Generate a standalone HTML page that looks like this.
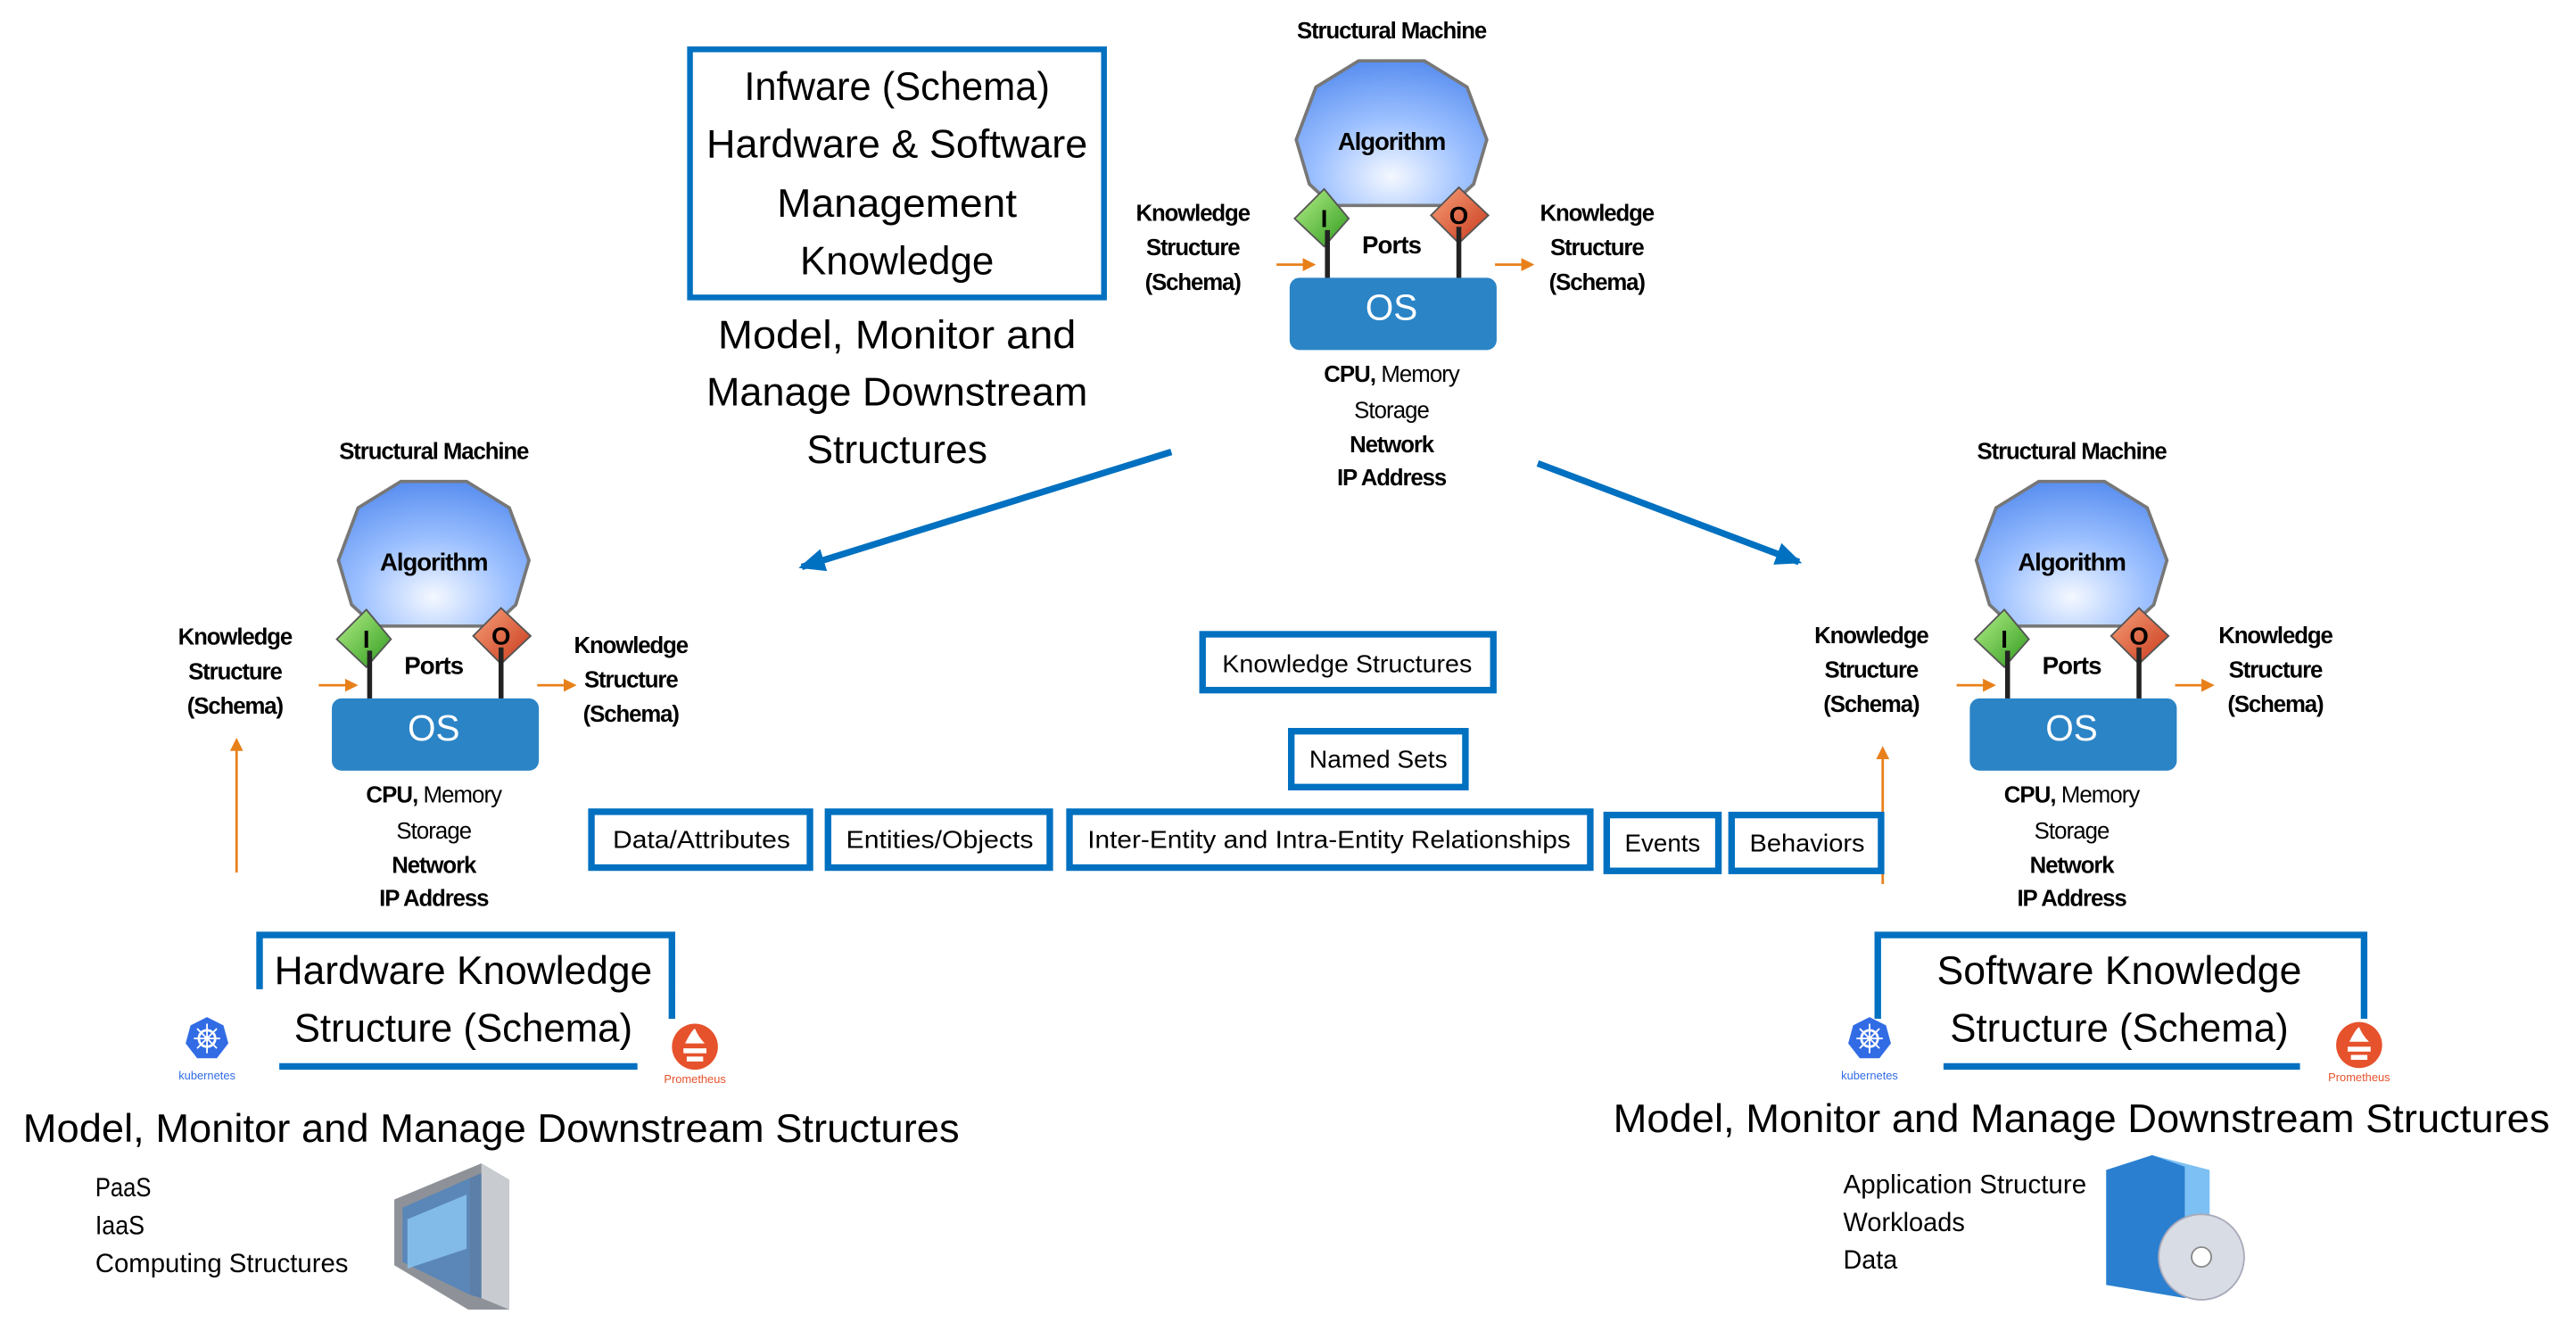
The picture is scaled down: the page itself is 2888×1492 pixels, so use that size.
<!DOCTYPE html>
<html><head><meta charset="utf-8"><style>html,body{margin:0;padding:0;background:#fff}svg{display:block}</style></head>
<body>
<svg width="2888" height="1492" viewBox="0 0 1568 810" xmlns="http://www.w3.org/2000/svg" font-family="Liberation Sans, sans-serif">
<defs>
<radialGradient id="alg" cx="0.5" cy="0.8" r="0.8"><stop offset="0" stop-color="#f4f8ff"/><stop offset="0.5" stop-color="#9cc0ff"/><stop offset="1" stop-color="#5a8ff0"/></radialGradient>
<linearGradient id="gI" x1="0" y1="0" x2="1" y2="1"><stop offset="0" stop-color="#b6f08a"/><stop offset="1" stop-color="#2e9a1c"/></linearGradient>
<linearGradient id="gO" x1="0" y1="0" x2="1" y2="1"><stop offset="0" stop-color="#f7a07a"/><stop offset="1" stop-color="#c8381a"/></linearGradient>
<marker id="ob" markerWidth="8" markerHeight="8" refX="6" refY="4" orient="auto" markerUnits="userSpaceOnUse"><path d="M0,0 L8,4 L0,8 z" fill="#e8801a"/></marker>
<marker id="bb" markerWidth="16" markerHeight="14" refX="14" refY="7" orient="auto" markerUnits="userSpaceOnUse"><path d="M0,0 L16,7 L0,14 z" fill="#0070c0"/></marker>
<g id="sm">
 <text x="0" y="19" text-anchor="middle" dominant-baseline="central" font-size="14" font-weight="bold" letter-spacing="-0.6">Structural Machine</text>
 <polygon points="-20,37 20,37 46,53 58,85 50,112 36,125 -36,125 -50,112 -58,85 -46,53" fill="url(#alg)" stroke="#777" stroke-width="2"/>
 <text x="0" y="86" text-anchor="middle" dominant-baseline="central" font-size="15" font-weight="bold" letter-spacing="-0.6">Algorithm</text>
 <polygon points="-41,115 -26,133 -41,150 -59,133" fill="url(#gI)" stroke="#555" stroke-width="1"/>
 <text x="-41" y="133" text-anchor="middle" dominant-baseline="central" font-size="15" font-weight="bold">I</text>
 <polygon points="41,114 59,131 41,148 24,131" fill="url(#gO)" stroke="#555" stroke-width="1"/>
 <text x="41" y="131" text-anchor="middle" dominant-baseline="central" font-size="15" font-weight="bold">O</text>
 <line x1="-39" y1="140" x2="-39" y2="170" stroke="#222" stroke-width="3"/>
 <line x1="41" y1="138" x2="41" y2="170" stroke="#222" stroke-width="3"/>
 <text x="0" y="149" text-anchor="middle" dominant-baseline="central" font-size="15" font-weight="bold" letter-spacing="-0.5">Ports</text>
 <rect x="-62" y="169" width="126" height="44" rx="6" fill="#2b84c6"/>
 <text x="0" y="187" text-anchor="middle" dominant-baseline="central" font-size="22" fill="#fff">OS</text>
 <text x="0" y="228" text-anchor="middle" dominant-baseline="central" font-size="14" letter-spacing="-0.5"><tspan font-weight="bold">CPU,</tspan> Memory</text>
 <text x="0" y="250" text-anchor="middle" dominant-baseline="central" font-size="14" letter-spacing="-0.5">Storage</text>
 <text x="0" y="271" text-anchor="middle" dominant-baseline="central" font-size="14" font-weight="bold" letter-spacing="-0.6">Network</text>
 <text x="0" y="291" text-anchor="middle" dominant-baseline="central" font-size="14" font-weight="bold" letter-spacing="-0.6">IP Address</text>
 <line x1="-70" y1="161" x2="-48" y2="161" stroke="#e8801a" stroke-width="1.5" marker-end="url(#ob)"/>
 <line x1="63" y1="161" x2="85" y2="161" stroke="#e8801a" stroke-width="1.5" marker-end="url(#ob)"/>
</g>
<g id="ks" font-size="14" font-weight="bold" letter-spacing="-0.6" text-anchor="middle">
 <text y="0" dominant-baseline="central">Knowledge</text>
 <text y="21" dominant-baseline="central">Structure</text>
 <text y="42" dominant-baseline="central">(Schema)</text>
</g>
<g id="k8s">
 <polygon points="0,-13 10,-8 13,3 6,12 -6,12 -13,3 -10,-8" fill="#326ce5"/>
 <circle cx="0" cy="0" r="5" fill="none" stroke="#fff" stroke-width="1.5"/>
 <path d="M0,-9V9M-8,0H8M-6,-6L6,6M6,-6L-6,6" stroke="#fff" stroke-width="1"/>
 <text x="0" y="25" text-anchor="middle" font-size="7" fill="#326ce5">kubernetes</text>
</g>
<g id="prom">
 <circle cx="0" cy="0" r="14" fill="#e6522c"/>
 <path d="M-6,-2 Q-2,-10 0,-11 Q2,-6 6,-2 Z" fill="#fff"/>
 <rect x="-7" y="1" width="14" height="3" fill="#fff"/>
 <rect x="-5" y="6" width="10" height="3" fill="#fff"/>
 <text x="0" y="22" text-anchor="middle" font-size="7" fill="#e6522c">Prometheus</text>
</g>
</defs>

<rect x="420" y="30" width="252" height="151" fill="none" stroke="#0070c0" stroke-width="3.5"/>
<g font-size="24" text-anchor="middle">
<text x="546" y="53" dominant-baseline="central" textLength="186" lengthAdjust="spacingAndGlyphs">Infware (Schema)</text>
<text x="546" y="88" dominant-baseline="central" textLength="232" lengthAdjust="spacingAndGlyphs">Hardware &amp; Software</text>
<text x="546" y="124" dominant-baseline="central" textLength="146" lengthAdjust="spacingAndGlyphs">Management</text>
<text x="546" y="159" dominant-baseline="central" textLength="118" lengthAdjust="spacingAndGlyphs">Knowledge</text>
<text x="546" y="204" dominant-baseline="central" textLength="218" lengthAdjust="spacingAndGlyphs">Model, Monitor and</text>
<text x="546" y="239" dominant-baseline="central" textLength="232" lengthAdjust="spacingAndGlyphs">Manage Downstream</text>
<text x="546" y="274" dominant-baseline="central" textLength="110" lengthAdjust="spacingAndGlyphs">Structures</text>
</g>

<use href="#sm" x="847" y="0"/>
<use href="#sm" x="264" y="256"/>
<use href="#sm" x="1261" y="256"/>
<use href="#ks" x="726" y="130"/>
<use href="#ks" x="972" y="130"/>
<use href="#ks" x="143" y="388"/>
<use href="#ks" x="384" y="393"/>
<use href="#ks" x="1139" y="387"/>
<use href="#ks" x="1385" y="387"/>

<line x1="713" y1="275" x2="488" y2="345" stroke="#0070c0" stroke-width="4" marker-end="url(#bb)"/>
<line x1="936" y1="282" x2="1095" y2="342" stroke="#0070c0" stroke-width="4" marker-end="url(#bb)"/>

<line x1="144" y1="531" x2="144" y2="451" stroke="#e8801a" stroke-width="1.5" marker-end="url(#ob)"/>
<line x1="1146" y1="538" x2="1146" y2="456" stroke="#e8801a" stroke-width="1.5" marker-end="url(#ob)"/>

<g fill="none" stroke="#0070c0" stroke-width="4">
<rect x="732" y="386" width="177" height="34"/>
<rect x="786" y="445" width="106" height="34"/>
<rect x="360" y="494" width="133" height="34"/>
<rect x="504" y="494" width="135" height="34"/>
<rect x="651" y="494" width="317" height="34"/>
<rect x="978" y="496" width="68" height="34"/>
<rect x="1054" y="496" width="91" height="34"/>
</g>
<g font-size="15" text-anchor="middle">
<text x="820" y="404" dominant-baseline="central" textLength="152" lengthAdjust="spacingAndGlyphs">Knowledge Structures</text>
<text x="839" y="462" dominant-baseline="central" textLength="84" lengthAdjust="spacingAndGlyphs">Named Sets</text>
<text x="427" y="511" dominant-baseline="central" textLength="108" lengthAdjust="spacingAndGlyphs">Data/Attributes</text>
<text x="572" y="511" dominant-baseline="central" textLength="114" lengthAdjust="spacingAndGlyphs">Entities/Objects</text>
<text x="809" y="511" dominant-baseline="central" textLength="294" lengthAdjust="spacingAndGlyphs">Inter-Entity and Intra-Entity Relationships</text>
<text x="1012" y="513" dominant-baseline="central" textLength="46" lengthAdjust="spacingAndGlyphs">Events</text>
<text x="1100" y="513" dominant-baseline="central" textLength="70" lengthAdjust="spacingAndGlyphs">Behaviors</text>
</g>

<g fill="none" stroke="#0070c0" stroke-width="4">
<path d="M158,602 V569 H409 V620"/>
<path d="M170,649 H388"/>
<path d="M1143,620 V569 H1439 V620"/>
<path d="M1183,649 H1400"/>
</g>
<g font-size="24" text-anchor="middle">
<text x="282" y="591" dominant-baseline="central" textLength="230" lengthAdjust="spacingAndGlyphs">Hardware Knowledge</text>
<text x="282" y="626" dominant-baseline="central" textLength="206" lengthAdjust="spacingAndGlyphs">Structure (Schema)</text>
<text x="1290" y="591" dominant-baseline="central" textLength="222" lengthAdjust="spacingAndGlyphs">Software Knowledge</text>
<text x="1290" y="626" dominant-baseline="central" textLength="206" lengthAdjust="spacingAndGlyphs">Structure (Schema)</text>
<text x="299" y="687" dominant-baseline="central" textLength="570" lengthAdjust="spacingAndGlyphs">Model, Monitor and Manage Downstream Structures</text>
<text x="1267" y="681" dominant-baseline="central" textLength="570" lengthAdjust="spacingAndGlyphs">Model, Monitor and Manage Downstream Structures</text>
</g>
<use href="#k8s" x="126" y="632"/>
<use href="#prom" x="423" y="637"/>
<use href="#k8s" x="1138" y="632"/>
<use href="#prom" x="1436" y="636"/>

<g font-size="16">
<text x="58" y="723" dominant-baseline="central" textLength="34" lengthAdjust="spacingAndGlyphs">PaaS</text>
<text x="58" y="746" dominant-baseline="central" textLength="30" lengthAdjust="spacingAndGlyphs">IaaS</text>
<text x="58" y="769" dominant-baseline="central" textLength="154" lengthAdjust="spacingAndGlyphs">Computing Structures</text>
<text x="1122" y="721" dominant-baseline="central" textLength="148" lengthAdjust="spacingAndGlyphs">Application Structure</text>
<text x="1122" y="744" dominant-baseline="central" textLength="74" lengthAdjust="spacingAndGlyphs">Workloads</text>
<text x="1122" y="767" dominant-baseline="central" textLength="33" lengthAdjust="spacingAndGlyphs">Data</text>
</g>

<polygon points="240,730 293,708 310,718 310,797 285,797 240,770" fill="#8e9298"/>
<polygon points="245,735 286,717 286,788 245,768" fill="#5a86b8"/>
<polygon points="248,742 284,727 284,760 248,772" fill="#8cc8f4" opacity="0.8"/>
<polygon points="293,708 310,718 310,797 293,790" fill="#c8cbd0"/>
<polygon points="286,717 293,714 293,790 286,788" fill="#5b7fa8"/>
<polygon points="1282,712 1310,703 1330,710 1330,790 1282,782" fill="#2a7fd0"/>
<polygon points="1310,703 1345,712 1345,790 1330,790 1330,710" fill="#7cc0f4"/>
<circle cx="1340" cy="765" r="26" fill="#d8dce4" stroke="#aab" stroke-width="1"/>
<circle cx="1340" cy="765" r="6" fill="#fff" stroke="#888" stroke-width="1"/>
</svg>
</body></html>
